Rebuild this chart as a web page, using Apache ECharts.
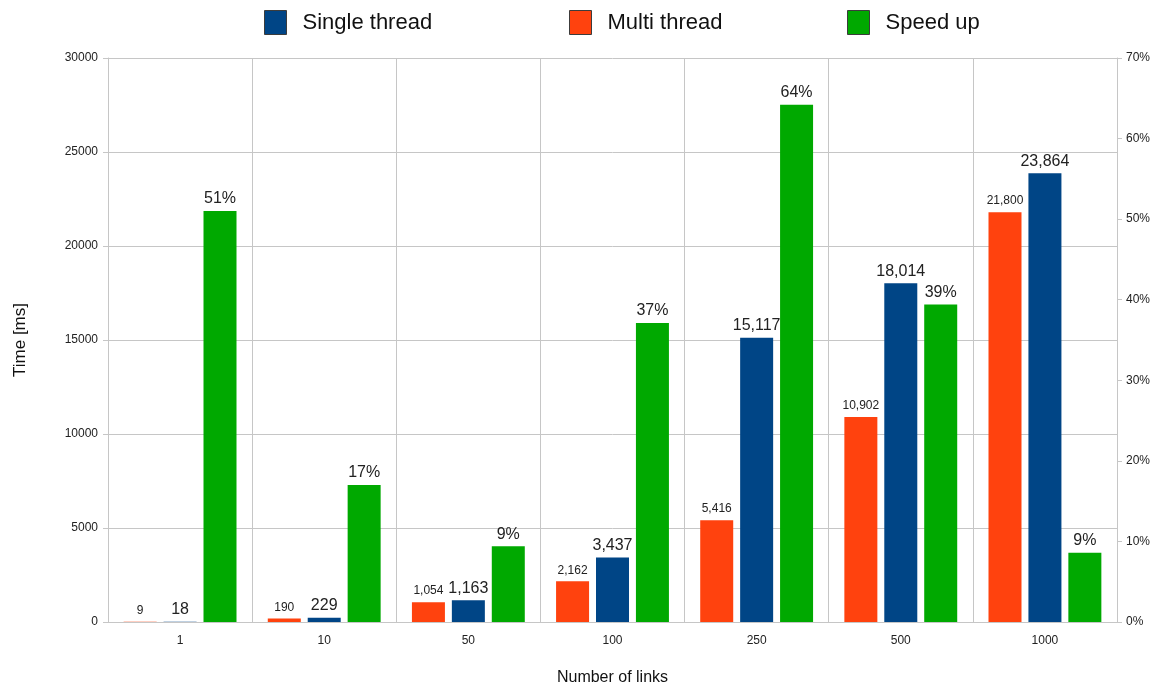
<!DOCTYPE html>
<html>
<head>
<meta charset="utf-8">
<script src="https://cdn.jsdelivr.net/npm/echarts@6/dist/echarts.min.js"></script>
<style>
html,body{margin:0;padding:0;background:#fff;}
#main{width:1163px;height:686px;}
</style>
</head>
<body>
<div id="main"></div>
<script>
// data
var categories = ['1', '10', '50', '100', '250', '500', '1000'];
var singleThread = [18, 229, 1163, 3437, 15117, 18014, 23864];
var multiThread = [9, 190, 1054, 2162, 5416, 10902, 21800];
var speedUp = [0.51, 0.17, 0.094, 0.371, 0.642, 0.394, 0.086];

var cSingle = '#004586';
var cMulti = '#ff420e';
var cSpeed = '#00a900';
var gridColor = '#c6c6c6';
var fontFam = 'Liberation Sans';

function thousands(v){
    return String(v).replace(/\B(?=(\d{3})+(?!\d))/g, ',');
}

var chart = echarts.init(document.getElementById('main'));

var legendBase = {
    top: 5,
    itemWidth: 22,
    itemHeight: 24,
    icon: 'rect',
    itemStyle: {borderColor: '#3c3c3c', borderWidth: 1},
    textStyle: {fontFamily: fontFam, fontSize: 22, color: '#111', padding: [0, 0, 0, 11]}
};

var option = {
    backgroundColor: '#fff',
    animation: false,
    textStyle: {fontFamily: fontFam},
    legend: [
        Object.assign({}, legendBase, {left: 259, data: ['Single thread']}),
        Object.assign({}, legendBase, {left: 564, data: ['Multi thread']}),
        Object.assign({}, legendBase, {left: 842, data: ['Speed up']})
    ],
    grid: {left: 108, right: 46, top: 58, bottom: 64, containLabel: false, outerBoundsMode: 'none'},
    xAxis: {
        type: 'category',
        data: categories,
        name: 'Number of links',
        nameLocation: 'middle',
        nameGap: 48,
        nameTextStyle: {fontSize: 16, color: '#111', fontFamily: fontFam},
        axisLine: {lineStyle: {color: gridColor}},
        axisTick: {length: 6, lineStyle: {color: gridColor}},
        axisLabel: {fontSize: 12, color: '#222', margin: 13},
        splitLine: {show: true, lineStyle: {color: gridColor}}
    },
    yAxis: [{
        type: 'value',
        min: 0,
        max: 30000,
        interval: 5000,
        name: 'Time [ms]',
        nameLocation: 'middle',
        nameRotate: 90,
        nameGap: 79,
        nameTextStyle: {fontSize: 17, color: '#111', fontFamily: fontFam},
        axisLine: {show: true, lineStyle: {color: gridColor}},
        axisTick: {show: true, length: 5, lineStyle: {color: gridColor}},
        axisLabel: {fontSize: 12, color: '#222', margin: 10, formatter: function(v){ return String(v); }},
        splitLine: {lineStyle: {color: gridColor}}
    }, {
        type: 'value',
        min: 0,
        max: 0.7,
        interval: 0.1,
        position: 'right',
        axisLine: {show: true, lineStyle: {color: gridColor}},
        axisTick: {show: true, length: 5, lineStyle: {color: gridColor}},
        axisLabel: {
            fontSize: 12, color: '#222', margin: 9,
            formatter: function(v){ return Math.round(v * 100) + '%'; }
        },
        splitLine: {show: false}
    }],
    series: [{
        name: 'Multi thread',
        type: 'bar',
        data: multiThread,
        barWidth: 33,
        barGap: '21%',
        itemStyle: {color: cMulti},
        label: {
            show: true, position: 'top', distance: 5,
            fontSize: 12, color: '#222',
            formatter: function(p){ return thousands(p.value); }
        }
    }, {
        name: 'Single thread',
        type: 'bar',
        data: singleThread,
        barWidth: 33,
        barGap: '21%',
        itemStyle: {color: cSingle},
        label: {
            show: true, position: 'top', distance: 4,
            fontSize: 16, color: '#222',
            formatter: function(p){ return thousands(p.value); }
        }
    }, {
        name: 'Speed up',
        type: 'bar',
        yAxisIndex: 1,
        data: speedUp,
        barWidth: 33,
        barGap: '21%',
        itemStyle: {color: cSpeed},
        label: {
            show: true, position: 'top', distance: 4,
            fontSize: 16, color: '#222',
            formatter: function(p){ return Math.round(p.value * 100) + '%'; }
        }
    }]
};

chart.setOption(option);
</script>
</body>
</html>
